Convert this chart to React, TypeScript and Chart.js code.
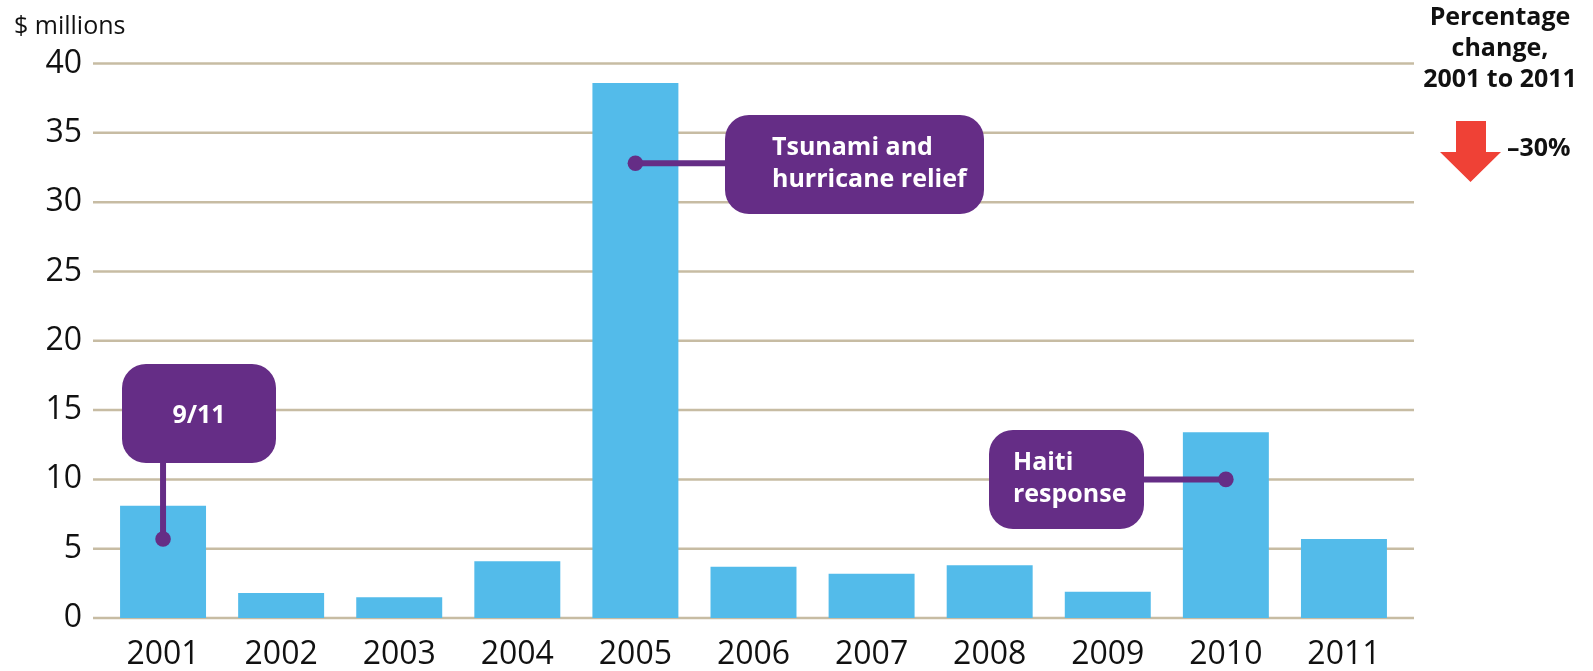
import React, { useEffect, useRef } from "react";
import { Chart, registerables } from "chart.js";

Chart.register(...registerables);

// ---- Data ----
const years = ["2001", "2002", "2003", "2004", "2005", "2006", "2007", "2008", "2009", "2010", "2011"];
const fundingMillions = [8.1, 1.8, 1.5, 4.1, 38.6, 3.7, 3.2, 3.8, 1.9, 13.4, 5.7];
const yTickValues = [0, 5, 10, 15, 20, 25, 30, 35, 40];
const yAxisTitle = "$ millions";

const calloutLabels = [["9/11"], ["Tsunami and", "hurricane relief"], ["Haiti", "response"]];
const calloutYears = ["2001", "2005", "2010"];
const calloutValues = [5.7, 32.8, 10.0];

const changeTitle = ["Percentage", "change,", "2001 to 2011"];
const changeValue = "\u201330%";

// ---- Styling / layout ----
const FONT = "'Open Sans', 'Noto Sans', sans-serif";
const BAR_COLOR = "#53BBEA";
const PURPLE = "#652D86";
const GRID_COLOR = "#C7BCA3";
const ARROW_RED = "#EF4136";
const TEXT = "#111111";

const calloutBoxes = [
  { x: 122, y: 364, w: 154, h: 99, textX: 199, align: "center", connector: "vertical" },
  { x: 725, y: 115, w: 259, h: 99, textX: 772, align: "left", connector: "horizontal" },
  { x: 989, y: 430, w: 155, h: 99, textX: 1013, align: "left", connector: "horizontal" },
];

function roundRect(ctx: CanvasRenderingContext2D, x: number, y: number, w: number, h: number, r: number) {
  ctx.beginPath();
  ctx.moveTo(x + r, y);
  ctx.lineTo(x + w - r, y);
  ctx.arcTo(x + w, y, x + w, y + r, r);
  ctx.lineTo(x + w, y + h - r);
  ctx.arcTo(x + w, y + h, x + w - r, y + h, r);
  ctx.lineTo(x + r, y + h);
  ctx.arcTo(x, y + h, x, y + h - r, r);
  ctx.lineTo(x, y + r);
  ctx.arcTo(x, y, x + r, y, r);
  ctx.closePath();
}

const gridPlugin = {
  id: "gridBehind",
  beforeDatasetsDraw(chart: any) {
    const ctx = chart.ctx as CanvasRenderingContext2D;
    const yScale = chart.scales.y;
    const { left, right } = chart.chartArea;
    ctx.save();
    ctx.strokeStyle = GRID_COLOR;
    ctx.lineWidth = 2.5;
    yScale.ticks.forEach((t: any) => {
      const py = yScale.getPixelForValue(t.value);
      ctx.beginPath();
      ctx.moveTo(left - 11, py);
      ctx.lineTo(right + 11, py);
      ctx.stroke();
    });
    ctx.restore();
  },
};

const annotationPlugin = {
  id: "annotations",
  afterDatasetsDraw(chart: any) {
    const ctx = chart.ctx as CanvasRenderingContext2D;
    const xs = chart.scales.x;
    const ys = chart.scales.y;
    ctx.save();
    calloutLabels.forEach((lines, i) => {
      const box = calloutBoxes[i];
      const ax = xs.getPixelForValue(years.indexOf(calloutYears[i]));
      const ay = ys.getPixelForValue(calloutValues[i]);
      // connector
      ctx.strokeStyle = PURPLE;
      ctx.lineWidth = 6;
      ctx.beginPath();
      if (box.connector === "vertical") {
        ctx.moveTo(ax, box.y + box.h / 2);
        ctx.lineTo(ax, ay);
      } else {
        const edge = ax < box.x ? box.x + 10 : box.x + box.w - 10;
        ctx.moveTo(edge, ay);
        ctx.lineTo(ax, ay);
      }
      ctx.stroke();
      // box
      ctx.fillStyle = PURPLE;
      roundRect(ctx, box.x, box.y, box.w, box.h, 24);
      ctx.fill();
      // dot
      ctx.beginPath();
      ctx.arc(ax, ay, 7.8, 0, Math.PI * 2);
      ctx.fill();
      // text
      ctx.fillStyle = "#FFFFFF";
      ctx.font = `bold 25px ${FONT}`;
      ctx.textAlign = box.align as CanvasTextAlign;
      ctx.textBaseline = "alphabetic";
      const cy = box.y + box.h / 2;
      const n = lines.length;
      lines.forEach((ln, j) => {
        const by = cy + 9 + (j - (n - 1) / 2) * 32 - (n > 1 ? 3 : 0);
        ctx.fillText(ln, box.textX, by);
      });
    });
    ctx.restore();
  },
  afterDraw(chart: any) {
    const ctx = chart.ctx as CanvasRenderingContext2D;
    ctx.save();
    // y-axis title
    ctx.fillStyle = TEXT;
    ctx.font = `25px ${FONT}`;
    ctx.textAlign = "left";
    ctx.textBaseline = "alphabetic";
    ctx.fillText(yAxisTitle, 14, 34);
    // percentage change title
    ctx.font = `bold 25px ${FONT}`;
    ctx.textAlign = "center";
    changeTitle.forEach((ln, j) => ctx.fillText(ln, 1500, 25 + j * 31));
    // arrow
    ctx.fillStyle = ARROW_RED;
    ctx.beginPath();
    ctx.moveTo(1456, 121);
    ctx.lineTo(1486, 121);
    ctx.lineTo(1486, 152);
    ctx.lineTo(1501, 152);
    ctx.lineTo(1470.5, 182);
    ctx.lineTo(1440, 152);
    ctx.lineTo(1456, 152);
    ctx.closePath();
    ctx.fill();
    // value
    ctx.fillStyle = TEXT;
    ctx.textAlign = "left";
    ctx.fillText(changeValue, 1507, 156);
    ctx.restore();
  },
};

export default function App() {
  const ref = useRef<HTMLCanvasElement>(null);

  useEffect(() => {
    const canvas = ref.current;
    if (!canvas) return;
    const chart = new Chart(canvas, {
      type: "bar",
      data: {
        labels: years,
        datasets: [
          {
            data: fundingMillions,
            backgroundColor: BAR_COLOR,
            borderWidth: 0,
            barPercentage: 0.728,
            categoryPercentage: 1,
          },
        ],
      },
      options: {
        responsive: false,
        animation: false,
        devicePixelRatio: 1,
        layout: { padding: { left: 0, right: 190, top: 63.5, bottom: 0 } },
        plugins: { legend: { display: false }, tooltip: { enabled: false } },
        scales: {
          x: {
            grid: { display: false, drawTicks: false },
            border: { display: false },
            ticks: {
              color: TEXT,
              font: { family: FONT, size: 32 },
              padding: 18,
              maxRotation: 0,
              autoSkip: false,
            },
            afterFit: (s: any) => {
              s.height = 53;
            },
          },
          y: {
            min: 0,
            max: 40,
            afterBuildTicks: (s: any) => {
              s.ticks = yTickValues.map((v) => ({ value: v }));
            },
            grid: { display: false, drawTicks: false },
            border: { display: false },
            ticks: {
              color: TEXT,
              font: { family: FONT, size: 32 },
              padding: 22,
            },
            afterFit: (s: any) => {
              s.width = 104;
            },
          },
        },
      },
      plugins: [gridPlugin, annotationPlugin],
    } as any);
    return () => chart.destroy();
  }, []);

  return (
    <div style={{ position: "fixed", left: 0, top: 0, width: 1593, height: 671, background: "#ffffff" }}>
      <canvas ref={ref} width={1593} height={671} style={{ display: "block", width: 1593, height: 671 }} />
    </div>
  );
}
